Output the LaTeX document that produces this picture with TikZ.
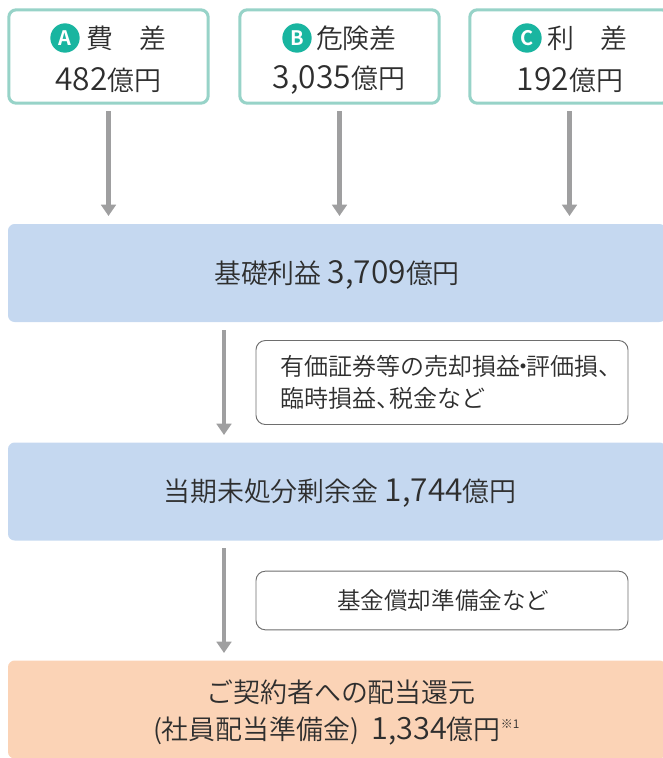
\documentclass[tikz,border=0pt]{standalone}
\usepackage{fontspec}
\setmainfont{Noto Sans CJK JP DemiLight}
\newfontfamily\boldcjk{Noto Sans CJK JP Bold}
\usetikzlibrary{arrows.meta}
\definecolor{tealline}{HTML}{97D3C8}
\definecolor{tealfill}{HTML}{19B5A0}
\definecolor{bluefill}{HTML}{C5D8F0}
\definecolor{orangefill}{HTML}{FBD3B6}
\definecolor{arrowgray}{HTML}{9F9FA0}
\definecolor{inkgray}{HTML}{2E2E2E}
\definecolor{notegray}{HTML}{6E6E6E}
\newcommand{\dg}[1]{{\fontsize{23.8}{28.5}\selectfont #1}}
\newcommand{\dgs}[1]{{\fontsize{23}{28.5}\selectfont #1}}
\newcommand{\narrowdot}{\kern-.36em・\kern-.36em}
\newcommand{\narrowcomma}{、\kern-.42em}
\tikzset{
 x=0.75pt,y=-0.75pt,
 every node/.style={text=inkgray,inner sep=0pt,outer sep=0pt,font=\fontsize{20.2}{28.5}\selectfont,align=center},
 termbox/.style={draw=tealline,line width=2.25pt,fill=white,rounded corners=5.5pt,minimum width=149.5pt,minimum height=70pt},
 bandbox/.style={rounded corners=5pt,minimum width=493.5pt,minimum height=73.5pt},
 notebox/.style={draw=notegray,line width=0.7pt,fill=white,rounded corners=7pt,minimum width=279pt},
 notetext/.style={font=\fontsize{18}{24}\selectfont},
 badge/.style={circle,fill=tealfill,minimum size=22pt,text=white,font=\boldcjk\fontsize{15}{15}\selectfont},
 flow/.style={draw=arrowgray,line width=3.4pt,-{Triangle[length=8.5pt,width=11pt]},shorten >=6pt,shorten <=6pt},
}
\begin{document}
\begin{tikzpicture}
\useasboundingbox (0,0) rectangle (663,758);
\clip (0,0) rectangle (663,758);
% terms
\node[termbox] (a) at (108.5,56.5) {};
\node[termbox] (b) at (339.5,56.5) {};
\node[termbox] (c) at (569.5,56.5) {};
\node[badge] (ba) at (65,38) {A};
\node[badge] (bb) at (297,38) {B};
\node[badge] (bc) at (527,38) {C};
\node[anchor=west] (ta) at (86,38) {費　差};
\node[anchor=west] (tb) at (316,38) {危険差};
\node[anchor=west] (tc) at (547,38) {利　差};
\node (va) at (108.5,80) {\dg{482}億円};
\node (vb) at (339,80) {\dg{3,035}億円};
\node (vc) at (570,80) {\dg{192}億円};
% bands
\node[bandbox,fill=bluefill] (base) at (337,273) {};
\node (baset) at (337,274.5) {基礎利益 \dg{3,709}億円};
\node[bandbox,fill=bluefill] (surplus) at (337,491.5) {};
\node (surplust) at (340,493) {当期未処分剰余金 \dg{1,744}億円};
\node[bandbox,fill=orangefill] (rebate) at (337,709.5) {};
\node (rebatea) at (341,692) {ご契約者への配当還元};
\node[anchor=west] (rebateb) at (153,731) {(社員配当準備金)\kern9pt\dgs{1,334}億円\raisebox{0.4em}{\fontsize{9}{9}\selectfont ※1}};
% notes
\node[notebox,minimum height=63pt] (n1) at (442,382.5) {};
\node[notetext,anchor=west,align=left] (n1t) at (280,382.5) {有価証券等の売却損益\narrowdot 評価損、\\臨時損益\narrowcomma 税金など};
\node[notebox,minimum height=44pt,font=\fontsize{17.7}{24}\selectfont] (n2) at (442,600.5) {\kern2pt 基金償却準備金など};
% arrows
\coordinate (s1) at (224,322);
\coordinate (e1) at (224,443);
\coordinate (s2) at (224,540);
\coordinate (e2) at (224,661);
\draw[flow] (a.south) -- (a.south |- base.north);
\draw[flow] (b.south) -- (b.south |- base.north);
\draw[flow] (c.south) -- (c.south |- base.north);
\draw[flow] (s1) -- (e1);
\draw[flow] (s2) -- (e2);
\end{tikzpicture}
\end{document}
